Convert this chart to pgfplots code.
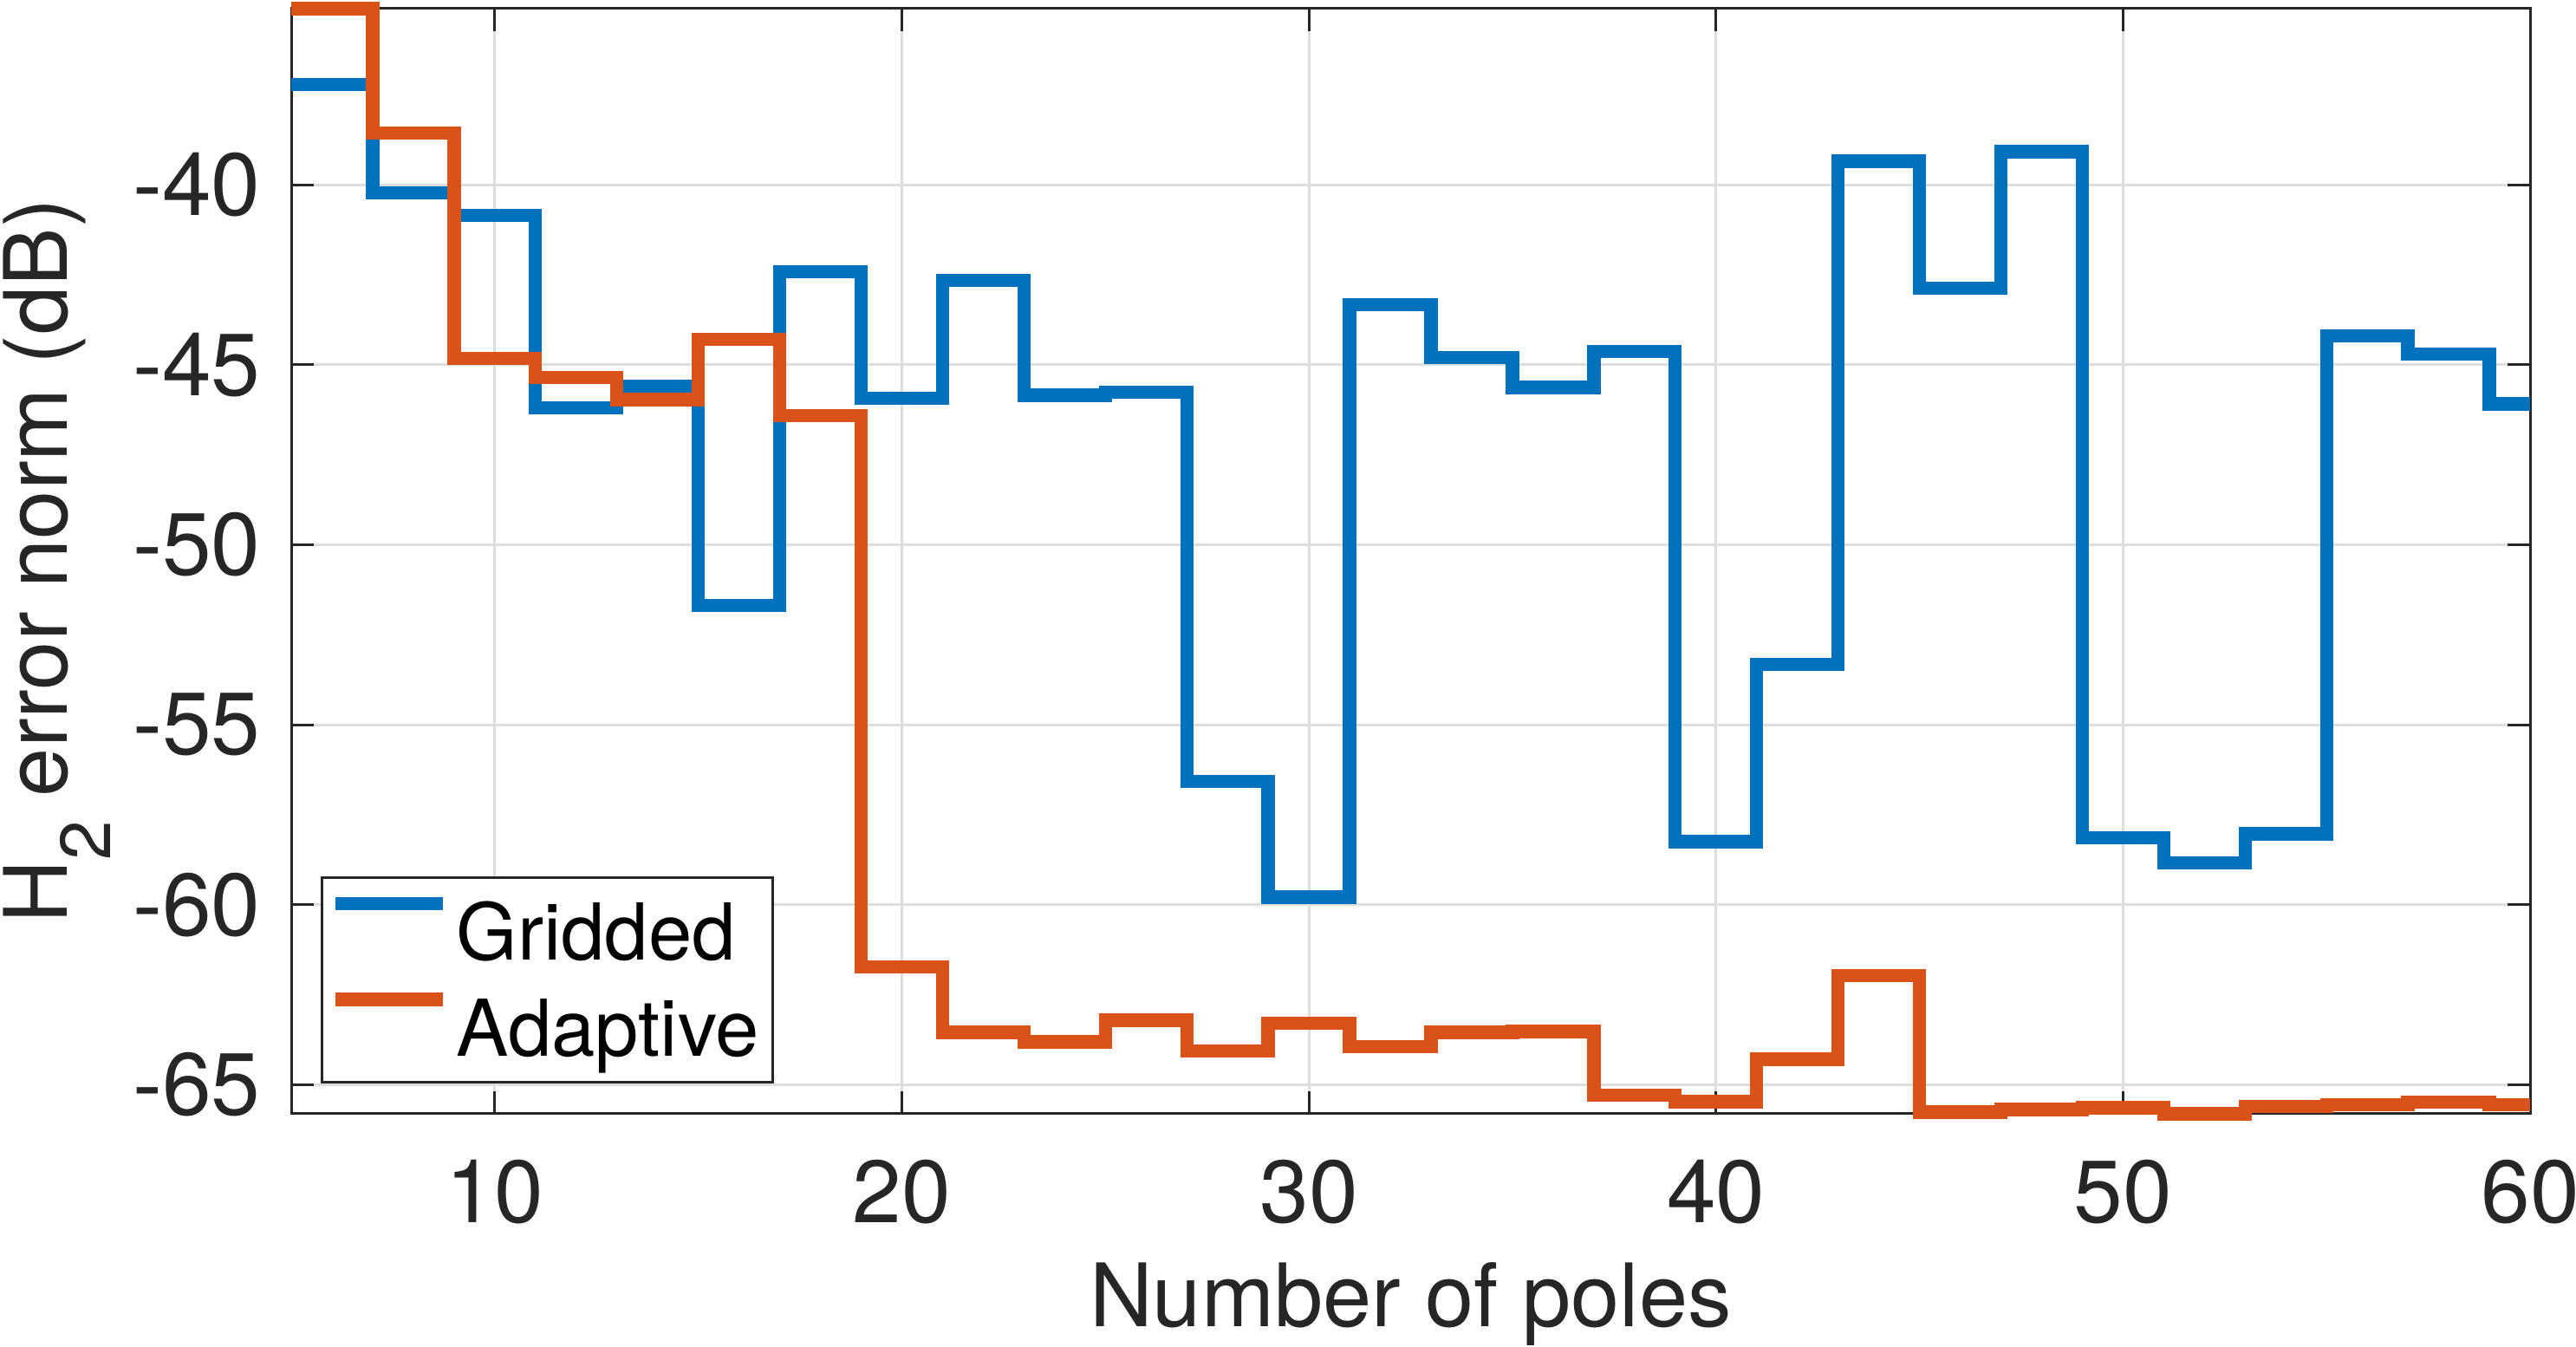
\documentclass[border=0pt]{standalone}
\usepackage{fontspec}
\setmainfont{TeX Gyre Heros}
\usepackage{pgfplots}
\usepackage{pgfplotstable}
\pgfplotsset{compat=1.18}

\definecolor{mblue}{rgb}{0,0.447,0.741}
\definecolor{morange}{rgb}{0.85,0.325,0.098}
\definecolor{maxis}{rgb}{0.15,0.15,0.15}
\definecolor{mgrid}{rgb}{0.87,0.87,0.87}

% H2 error norm (dB) per number of poles, stairs from x to next x
\pgfplotstableread{
x  gridded adaptive
5  -37.22  -35.11
7  -40.23  -38.57
9  -40.85  -44.82
11 -46.20  -45.35
13 -45.60  -45.97
15 -51.68  -44.29
17 -42.42  -46.42
19 -45.94  -61.73
21 -42.66  -63.55
23 -45.85  -63.81
25 -45.77  -63.21
27 -56.57  -64.06
29 -59.79  -63.30
31 -43.34  -63.94
33 -44.80  -63.55
35 -45.63  -63.52
37 -44.63  -65.29
39 -58.25  -65.47
41 -53.33  -64.29
43 -39.35  -61.97
45 -42.88  -65.76
47 -39.08  -65.69
49 -58.14  -65.64
51 -58.84  -65.81
53 -58.03  -65.61
55 -44.20  -65.55
57 -44.70  -65.49
59 -46.09  -65.55
60 -46.09  -65.55
}\poles

\begin{document}
\begin{tikzpicture}
\begin{axis}[
  at={(33.6pt,26.8pt)}, anchor=south west,
  scale only axis, width=258.3pt, height=127.5pt,
  xmin=5, xmax=60, ymin=-65.81, ymax=-35.11,
  clip=false,
  xtick={10,20,30,40,50,60},
  ytick={-65,-60,-55,-50,-45,-40},
  yticklabels={-65,-60,-55,-50,-45,-40},
  /pgf/number format/assume math mode=true,
  tick align=inside, major tick length=2.6pt,
  every tick/.style={maxis, line width=0.3pt},
  axis line style={maxis, line width=0.3pt},
  grid=major,
  major grid style={mgrid, line width=0.3pt},
  ticklabel style={font=\fontsize{10.2}{12.2}\selectfont, text=maxis},
  xticklabel style={yshift=-1.8pt},
  yticklabel style={xshift=0pt},
  xlabel={Number of poles},
  ylabel={H\raisebox{-5pt}{\fontsize{8.2}{9}\selectfont 2} error norm (dB)},
  label style={font=\fontsize{10.1}{12.1}\selectfont, text=maxis},
  xlabel style={at={(axis description cs:0.5,-0.1922)}, anchor=base},
  ylabel style={at={(axis description cs:-0.1002,0.5)}, anchor=base},
  legend style={at={(axis description cs:0.01316,0.02745)}, anchor=south west,
    draw=maxis, line width=0.3pt, fill=white,
    font=\fontsize{9.05}{10.8}\selectfont, text=black,
    inner xsep=0.8pt, inner ysep=1.2pt, row sep=0.95pt,
    nodes={inner sep=0.8pt, text height=7.5pt, text depth=1.0pt}},
  legend cell align=left,
  legend image code/.code={\draw[#1, line width=1.53pt] (0pt,3.3pt) -- (12.4pt,3.3pt);},
]
\addplot[const plot, mblue, line width=1.53pt, line join=miter] table[x=x, y=gridded] {\poles};
\addlegendentry{Gridded}
\addplot[const plot, morange, line width=1.53pt, line join=miter] table[x=x, y=adaptive] {\poles};
\addlegendentry{Adaptive}
\end{axis}
\pgfresetboundingbox
\path (0pt,0pt) rectangle (297.2pt,155.3pt);
\end{tikzpicture}
\end{document}
